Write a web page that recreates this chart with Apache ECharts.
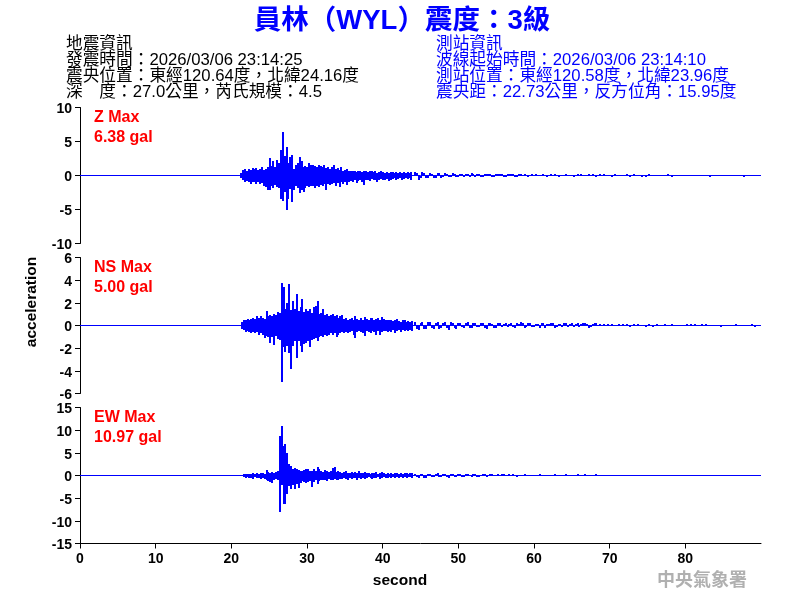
<!DOCTYPE html>
<html>
<head>
    <meta charset="utf-8">
    <title>ECharts</title>
    <script src="https://cdn.jsdelivr.net/npm/echarts@6/dist/echarts.min.js"></script>
    <style>html,body{margin:0;background:#fff;}</style>
</head>
<body>
    <div id="main" style="width:800px;height:600px;"></div>
    <script type="text/javascript">
        var xTicks = [0, 10, 20, 30, 40, 50, 60, 70, 80];
        var baseline = [[0, 0], [90, 0]];

        // peaks per 0.25 s bin (gal)
        var zUp = [.4,.8,.9,.7,1.0,.8,1.1,.9,1.1,.8,
            1.0,1.2,.8,1.0,1.3,2.6,1.4,2.2,1.2,2.35,
            1.9,3.7,6.38,2.9,4.2,1.9,2.7,3.0,1.0,1.6,
            1.8,2.65,2.2,1.2,1.4,1.2,1.9,1.5,1.6,1.4,
            1.2,1.5,1.4,1.2,1.5,1.1,1.3,.9,1.2,1.6,
            1.0,1.1,.8,1.3,.7,.8,.9,.7,.6,.7,
            .7,.5,.6,.7,.5,.7,.6,.5,.7,.6,
            .5,.6,.4,.5,.6,.5,.4,.5,.4,.5,
            .5,.4,.5,.4,.5,.3,.5,.4,.5,.4,.5];
        var zDown = [-.4,-.7,-.9,-.8,-.9,-1.2,-1.0,-.9,-1.3,-1.0,
            -1.2,-1.1,-1.5,-1.7,-2.1,-2.2,-1.6,-1.9,-1.4,-1.7,
            -1.9,-3.5,-3.8,-2.4,-5.1,-3.4,-2.0,-3.9,-2.2,-1.6,
            -1.9,-2.6,-2.1,-2.4,-1.8,-1.6,-1.7,-1.5,-1.6,-1.9,
            -1.6,-1.7,-1.4,-1.5,-1.3,-2.1,-1.2,-1.4,-1.3,-1.1,
            -1.5,-1.1,-1.7,-1.0,-1.2,-1.0,-1.4,-.9,-.8,-1.0,
            -.7,-1.1,-.8,-.6,-.9,-1.4,-.7,-.6,-.8,-.5,
            -.7,-.6,-1.0,-.6,-.5,-.7,-.6,-.5,-.8,-.6,
            -.5,-.4,-.6,-.5,-.4,-.7,-.5,-.4,-.5,-.4,-.6];
        var nsUp = [.3,.5,.5,.6,.5,.6,.7,.6,.8,.7,
            .8,.7,.6,1.3,.8,.9,.8,1.0,.9,1.2,
            1.1,3.76,3.4,1.5,2.0,3.7,1.4,2.2,1.5,2.8,
            1.3,1.6,2.35,1.2,1.5,1.3,1.5,1.1,1.6,1.7,
            2.2,1.0,1.1,1.5,.9,1.0,.8,.9,1.0,.8,
            .9,.7,.8,.9,.6,.7,.5,.6,.7,.5,
            .8,.6,.5,.65,.5,.75,.6,.5,.65,.7,
            .5,.6,.65,.5,.75,.6,.5,.45,.45,.5,
            .4,.5,.55,.4,.35,.45,.5,.35,.4,.3,.4];
        var nsDown = [-.3,-.4,-.6,-.5,-.6,-.7,-.6,-.7,-.6,-.8,
            -.7,-.8,-1.1,-.9,-1.0,-1.5,-1.0,-1.7,-.9,-1.2,
            -1.3,-5.0,-1.9,-2.35,-1.8,-2.4,-3.8,-1.8,-1.4,-2.9,
            -1.4,-1.8,-2.3,-1.6,-1.5,-1.4,-1.9,-1.3,-1.2,-1.1,
            -1.4,-1.0,-.9,-1.0,-.8,-.9,-.8,-.7,-.8,-.7,
            -1.0,-.8,-.7,-.6,-.7,-.6,-.7,-.6,-.5,-.8,
            -1.1,-.6,-.5,-.6,-.7,-.95,-.5,-.6,-.7,-.5,
            -.6,-.8,-.5,-.8,-.6,-.5,-.5,-.6,-.5,-.6,
            -.4,-.7,-.5,-.4,-.6,-.4,-.5,-.4,-.5,-.4,-.45];
        var ewUp = [.2,.3,.4,.3,.4,.3,.5,.4,.6,.4,
            .5,.6,.4,1.2,.7,.6,.8,.6,.7,.9,
            8.7,10.97,6.5,7.0,5.0,2.6,2.0,1.5,1.6,1.5,
            1.3,.9,1.0,1.2,1.5,1.5,1.1,1.1,1.4,.9,
            1.8,1.5,1.0,.8,1.2,.9,.7,.9,1.7,1.9,
            .8,1.0,.7,.6,.7,.9,.6,.5,.8,.6,
            .7,.5,.9,.6,.5,.7,.5,.6,.4,.6,
            .5,.7,.4,.5,.8,.5,.4,.6,.4,.5,
            .4,.5,.6,.4,.5,.4,.6,.5,.4,.5,.5];
        var ewDown = [-.2,-.3,-.5,-.4,-.6,-.5,-.7,-.4,-.6,-.5,
            -.7,-.6,-.8,-.9,-1.2,-1.5,-1.6,-1.0,-.8,-1.0,
            -8.0,-2.0,-6.2,-6.2,-4.0,-2.4,-3.0,-2.0,-2.9,-1.8,
            -2.7,-1.6,-1.2,-1.4,-1.7,-1.5,-1.3,-2.5,-1.4,-1.1,
            -1.8,-1.2,-1.0,-.9,-1.0,-1.3,-.8,-.9,-1.1,-.7,
            -.9,-1.0,-.7,-.8,-.6,-.7,-1.0,-.6,-.8,-.5,
            -.6,-.9,-.5,-.7,-.6,-.8,-.5,-.4,-.6,-.7,
            -.5,-.6,-.4,-.7,-.5,-.4,-.5,-.6,-.4,-.5,
            -.4,-.6,-.4,-.5,-.3,-.5,-.4,-.5,-.3,-.4,-.5];

        // coda spikes per 0.5 s, from 44.25 s on
        var zTail = [.5,-.6,.45,-.4,.3,-.4,.35,-.3,.3,-.25,
            .3,-.2,.25,-.2,.2,.3,-.25,.2,-.2,.25,
            .25,-.15,.2,.15,-.2,.15,.2,-.15,.15,.2,
            -.15,.15,.2,0,.15,-.15,.15,.2,-.15,0,
            .15,0,-.15,.15,.15,0,.2,.15,-.15,.2,
            .15,0,-.15,.15,0,0,.15,-.15,.15,0,
            -.15,-.15,.15,0,0,0,0,.15,-.15,0,
            0,0,0,0,0,0,0,0,-.15,0,
            0,0,0,0,0,0,0,-.15,0,0,
            0,0];
        var nsTail = [.35,-.4,.3,-.35,.3,-.3,.35,-.25,.3,-.4,
            .25,-.3,.25,-.2,.3,-.2,.25,-.15,.2,-.3,
            .2,-.2,.25,-.15,.2,.15,-.15,.2,.3,-.2,
            .2,-.15,.15,-.2,.2,.15,.2,-.2,.15,-.15,
            .2,.15,-.15,.2,.15,.2,-.2,.15,.2,.15,
            .1,.15,.1,0,.1,.15,.1,-.1,.1,.15,
            0,-.1,.1,-.1,.1,0,.1,0,.1,0,
            0,0,.12,.12,.1,0,.1,.12,0,0,
            0,-.1,0,0,0,.12,0,0,0,.12,
            -.1,0];
        var ewTail = [.4,-.6,.35,-.5,.4,-.4,.5,-.3,.35,-.5,
            .3,-.4,.35,-.3,.3,-.35,.4,-.25,.3,-.25,
            .3,-.2,.25,.3,-.2,.25,.3,-.25,.2,.25,
            .2,-.2,.2,.25,-.2,.2,-.2,.25,.2,-.2,
            .25,-.2,.2,.3,-.2,.3,0,-.2,.25,0,
            0,-.2,0,0,0,0,0,0,0,0,
            0,0,0,0,0,0,0,0,0,0,
            0,0,0,0,0,0,0,0,0,0,
            0,0,0,0,0,0,0,0,0,0,
            0,0];

        // in-between spikes of the early coda, from 44.5 s on
        var zTailB = [.3,-.4,.35,-.3,.25,-.35,.3,-.2,.25,-.2,
            .2,-.25,.2,.15,-.2,.15,.2,-.15,.2,.15,
            -.15,.2,.15,-.15,.15,.2,-.15,.15];
        var nsTailB = [-.3,.25,-.3,.35,-.25,.2,-.3,.25,-.2,.3,
            -.2,.25,-.15,.2,-.25,.2,-.15,.25,-.2,.2,
            .15,-.2,.2,.15,-.15,.25,-.2,.15,.2,-.15,
            .2,-.15,.15,.2,-.2,.15,.2,-.15,.15,.2,
            -.15,.2,.15,-.15,.2,.15,-.15,.2];
        var ewTailB = [-.4,.3,-.45,.35,-.3,.4,-.25,.3,-.35,.25,
            -.3,.3,-.25,.3,-.2,.25,-.25,.2,.25,-.2,
            .25,-.2,.2,.25];

        var FONT = '"Liberation Sans", "Noto Sans CJK TC", sans-serif';

        var infoLeft = ['地震資訊', '發震時間：2026/03/06 23:14:25', '震央位置：東經120.64度，北緯24.16度', '深　度：27.0公里，芮氏規模：4.5'];
        var infoRight = ['測站資訊', '波線起始時間：2026/03/06 23:14:10', '測站位置：東經120.58度，北緯23.96度', '震央距：22.73公里，反方位角：15.95度'];

        function addSpikes(out, start, arr) {
            arr.forEach(function (v, k) {
                if (v !== 0) {
                    out.push([start + k * 0.5, Math.max(v, 0), Math.min(v, 0)]);
                }
            });
        }

        // one vertical stroke per bin: [t, top, bottom]
        function bins(start, up, down, tail, tailB) {
            var out = [];
            for (var i = 0; i < up.length; i++) {
                out.push([start + i * 0.25, up[i], down[i]]);
            }
            addSpikes(out, 44.25, tail);
            addSpikes(out, 44.5, tailB);
            return out;
        }

        function renderBin(params, api) {
            var a = api.coord([api.value(0), api.value(1)]);
            var b = api.coord([api.value(0), api.value(2)]);
            var x = Math.round(a[0]);
            return {
                type: 'line',
                shape: {x1: x, y1: Math.round(a[1]), x2: x, y2: Math.round(b[1])},
                style: {stroke: '#0000ff', lineWidth: 2}
            };
        }

        var panels = [
            {top: 107.5, min: -10, max: 10, interval: 5, data: bins(21.3, zUp, zDown, zTail, zTailB)},
            {top: 257.5, min: -6, max: 6, interval: 2, data: bins(21.4, nsUp, nsDown, nsTail, nsTailB)},
            {top: 407.5, min: -15, max: 15, interval: 5, data: bins(21.4, ewUp, ewDown, ewTail, ewTailB)}
        ];

        var labelStyle = {color: '#000', fontFamily: FONT, fontWeight: 'bold', fontSize: 14};
        var axisStyle = {color: '#000', width: 1};

        var grids = [], xAxes = [], yAxes = [], series = [];
        panels.forEach(function (p, idx) {
            var last = idx === panels.length - 1;
            grids.push({left: 80, width: 681, top: p.top, height: 136});
            xAxes.push({
                gridIndex: idx, type: 'value', min: 0, max: 90, show: last, position: 'bottom',
                axisLine: {onZero: false, lineStyle: axisStyle},
                axisTick: {length: 5, lineStyle: axisStyle, customValues: xTicks},
                axisLabel: Object.assign({margin: 9, customValues: xTicks}, labelStyle),
                splitLine: {show: false}
            });
            yAxes.push({
                gridIndex: idx, type: 'value', min: p.min, max: p.max, interval: p.interval,
                axisLine: {show: true, onZero: false, lineStyle: axisStyle},
                axisTick: {show: true, length: 5, lineStyle: axisStyle},
                axisLabel: {
                    margin: 8, hideOverlap: false, formatter: '{a|{value}}',
                    rich: {a: Object.assign({padding: [4, 0, 0, 0]}, labelStyle)}
                },
                splitLine: {show: false}
            });
            series.push({
                type: 'line', xAxisIndex: idx, yAxisIndex: idx, data: baseline,
                showSymbol: false, silent: true, animation: false,
                lineStyle: {color: '#0000ff', width: 1}
            });
            series.push({
                type: 'custom', xAxisIndex: idx, yAxisIndex: idx, data: p.data,
                renderItem: renderBin, encode: {x: 0, y: [1, 2]},
                silent: true, animation: false
            });
        });

        function text(x, y, str, font, fill, extra) {
            return Object.assign({
                type: 'text', x: x, y: y, silent: true,
                style: {text: str, font: font + ' ' + FONT, fill: fill, textVerticalAlign: 'middle'}
            }, extra || {});
        }

        var graphics = [];
        var title = text(402, 21, '員林（WYL）震度：3級', 'bold 27.5px', '#0000ff');
        title.style.textAlign = 'center';
        graphics.push(title);
        infoLeft.forEach(function (s, i) { graphics.push(text(66, 44 + i * 16, s, '16.7px', '#000')); });
        infoRight.forEach(function (s, i) { graphics.push(text(436, 44 + i * 16, s, '16.7px', '#0000ff')); });
        [['Z Max', '6.38 gal', 118], ['NS Max', '5.00 gal', 268], ['EW Max', '10.97 gal', 418]].forEach(function (r) {
            graphics.push(text(94, r[2], r[0], 'bold 16px', '#ff0000'));
            graphics.push(text(94, r[2] + 20, r[1], 'bold 16px', '#ff0000'));
        });
        var yName = text(32, 302, 'acceleration', 'bold 15.5px', '#000', {rotation: Math.PI / 2});
        yName.style.textAlign = 'center';
        graphics.push(yName);
        var xName = text(400, 581, 'second', 'bold 15.5px', '#000');
        xName.style.textAlign = 'center';
        graphics.push(xName);
        graphics.push(text(657, 581, '中央氣象署', 'bold 18px', '#b0b0b0'));

        var myChart = echarts.init(document.getElementById('main'));
        myChart.setOption({
            animation: false,
            backgroundColor: '#fff',
            grid: grids,
            xAxis: xAxes,
            yAxis: yAxes,
            series: series,
            graphic: graphics
        });
    </script>
</body>
</html>
